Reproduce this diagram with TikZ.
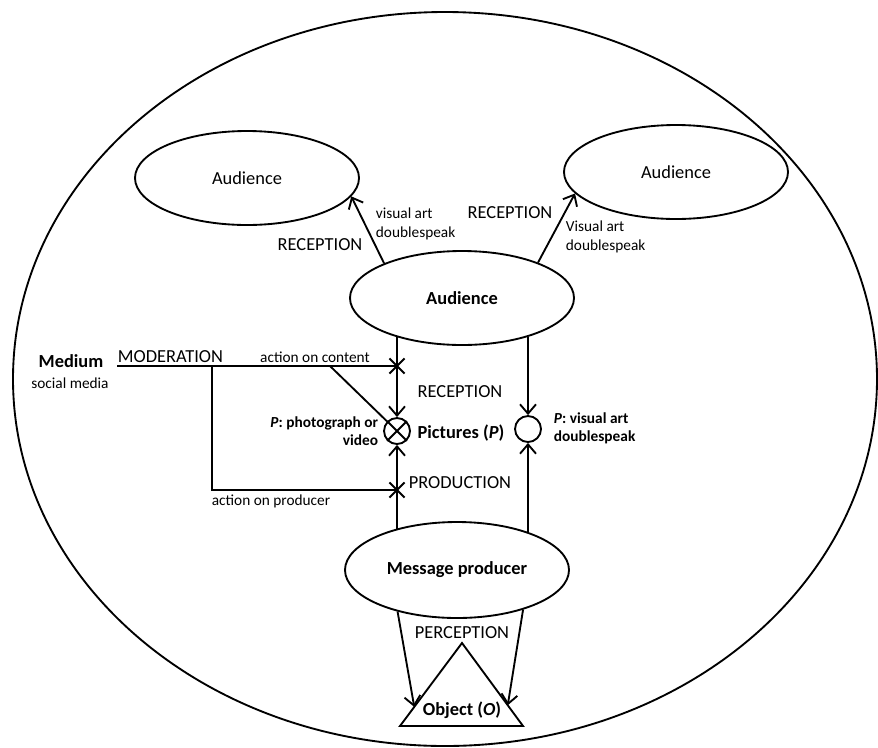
\documentclass[tikz,border=0pt]{standalone}
\usepackage{fontspec}
\setmainfont{Carlito}
\usetikzlibrary{arrows.meta,shapes.geometric,shapes.misc,calc}
\tikzset{
  bigtext/.style={font=\fontsize{13.8}{16}\selectfont},
  bigbold/.style={font=\fontsize{13.8}{16}\selectfont\bfseries},
  smalltext/.style={font=\fontsize{11.5}{14.3}\selectfont},
  smallbold/.style={font=\fontsize{11.5}{13.6}\selectfont\bfseries},
  ell/.style={draw,ellipse,minimum width=168pt,minimum height=70.5pt,inner sep=0pt},
  pnode/.style={draw,circle,minimum size=19.5pt,inner sep=0pt},
  xmark/.style={draw,cross out,minimum size=10pt,inner sep=0pt},
  arr/.style={-{Straight Barb[length=7pt,width=12pt]}},
}
\begin{document}
\begin{tikzpicture}[x=0.75pt,y=-0.75pt,line width=1.4pt]
\useasboundingbox (0,0) rectangle (878,747);
\draw (445,379) ellipse [x radius=324pt,y radius=275.25pt];
\node[ell,bigtext] (audL) at (247,178) {Audience};
\node[ell,bigtext] (audR) at (676,172) {Audience};
\node[ell,bigbold] (aud) at (462,298) {Audience};
\node[ell,bigbold,minimum height=72pt] (prod) at (457,570) {Message producer};
\node[pnode] (pc) at (397,431) {};
\draw (pc.north west) -- (pc.south east) (pc.north east) -- (pc.south west);
\node[pnode] (pv) at (528,429) {};
\coordinate (apex) at (462,643);
\coordinate (bl) at (400,726);
\coordinate (br) at (523,726);
\draw (apex) -- (bl) -- (br) -- cycle;
\node[bigbold] (obj) at (462,710) {Object (\textit{O})};
\node[bigbold] (med) at (71,361) {Medium};
\node[smalltext] (soc) at (70,383) {social media};
\node[bigtext,anchor=south west,inner xsep=0pt,inner ysep=1.5pt] (mod) at (117,366) {MODERATION};
\node[xmark] (xc) at (397,366) {};
\node[xmark] (xp) at (397,490) {};
\coordinate (jn) at (212,366);
\coordinate (dg) at (330,366);
\draw (mod.south west) -- (xc.center);
\draw (jn) |- (xp.center);
\draw (dg) -- (pc);
\draw[arr] (pc |- aud.210) -- (pc.north);
\draw[arr] (pv |- aud.-30) -- (pv.north);
\draw[arr] (pc |- prod.146) -- (pc.south);
\draw[arr] (pv |- prod.28) -- (pv.south);
\draw[arr] (aud.156) -- (audL.-10);
\draw[arr] (aud.25) -- (audR.192);
\draw[arr] (prod.215) -- ($(apex)!0.77!(bl)$);
\draw[arr] (prod.-31) -- ($(apex)!0.75!(br)$);
\node[bigtext] (recL) at (320,245) {RECEPTION};
\node[smalltext,align=left,anchor=west,inner xsep=0pt] (vaL) at (375,224) {visual art\\doublespeak};
\node[bigtext] (recR) at (510,213) {RECEPTION};
\node[smalltext,align=left,anchor=west,inner xsep=0pt] (vaR) at (565,237) {Visual art\\doublespeak};
\node[smalltext] (aoc) at (315,357) {action on content};
\node[smalltext] (aop) at (271,501) {action on producer};
\node[bigtext] (recM) at (460,392) {RECEPTION};
\node[bigtext] (prodn) at (460,483) {PRODUCTION};
\node[bigbold] (pic) at (461,433) {Pictures (\textit{P})};
\node[smallbold,align=right,anchor=east,inner xsep=0pt] (ppv) at (379,431) {\textit{P}: photograph or\\video};
\node[smallbold,align=left,anchor=west,inner xsep=0pt] (pva) at (553,428) {\textit{P}: visual art\\doublespeak};
\node[bigtext] (perc) at (462,633) {PERCEPTION};
\end{tikzpicture}
\end{document}
